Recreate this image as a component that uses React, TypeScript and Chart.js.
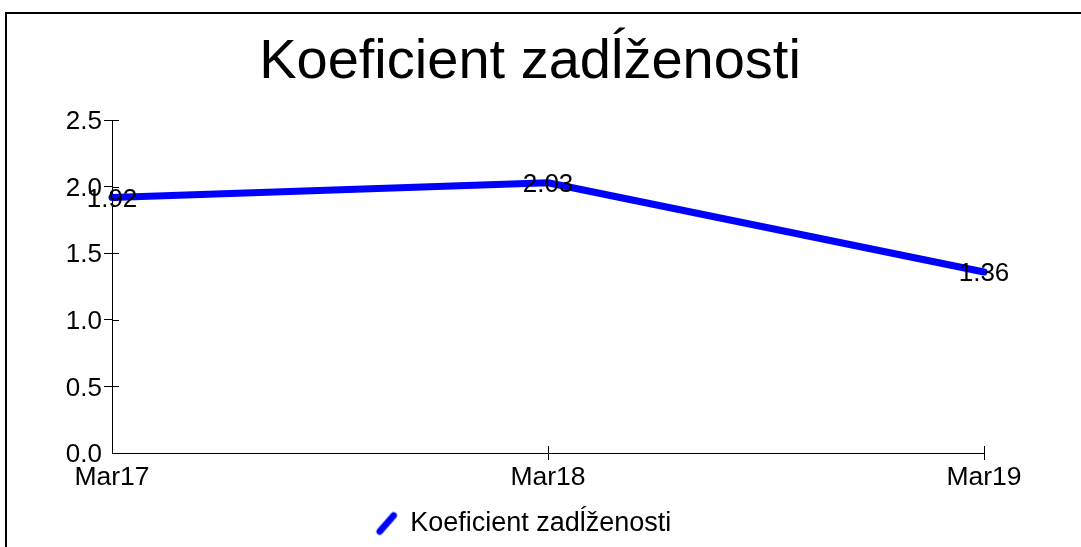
import React, { useEffect, useRef } from "react";
import { Chart, registerables } from "chart.js";

Chart.register(...registerables);

const TITLE = "Koeficient zadĺženosti";
const SERIES_NAME = "Koeficient zadĺženosti";
const CATEGORIES = ["Mar17", "Mar18", "Mar19"];
const VALUES = [1.92, 2.03, 1.36];
const Y_MIN = 0;
const Y_MAX = 2.5;
const Y_STEP = 0.5;

const FONT = "'Liberation Sans', Arial, Helvetica, sans-serif";
const LINE_COLOR = "#0000ff";

function makeLegendIcon(): HTMLCanvasElement {
  const c = document.createElement("canvas");
  c.width = 24;
  c.height = 26;
  const g = c.getContext("2d")!;
  g.strokeStyle = LINE_COLOR;
  g.lineWidth = 6.5;
  g.lineCap = "round";
  g.beginPath();
  g.moveTo(5, 21);
  g.lineTo(19, 5);
  g.stroke();
  return c;
}

const recenter = {
  id: "recenter",
  afterLayout(chart: any) {
    if (chart.titleBlock) chart.titleBlock.left = 76;
    if (chart.legend) chart.legend.left = 64;
  },
};

const crossTicks = {
  id: "crossTicks",
  afterDraw(chart: any) {
    const ctx = chart.ctx;
    const area = chart.chartArea;
    ctx.save();
    ctx.strokeStyle = "#000";
    ctx.lineWidth = 1;
    const y = chart.scales.y;
    y.ticks.forEach((_: any, i: number) => {
      if (i === 0) return;
      const py = Math.round(y.getPixelForTick(i)) + 0.5;
      ctx.beginPath();
      ctx.moveTo(area.left, py);
      ctx.lineTo(area.left + 7, py);
      ctx.stroke();
    });
    const x = chart.scales.x;
    x.ticks.forEach((_: any, i: number) => {
      if (i === 0) return;
      const px = Math.round(x.getPixelForTick(i)) + 0.5;
      ctx.beginPath();
      ctx.moveTo(px, area.bottom);
      ctx.lineTo(px, area.bottom - 7);
      ctx.stroke();
    });
    ctx.restore();
  },
};

const dataLabels = {
  id: "dataLabels",
  afterDatasetsDraw(chart: any) {
    const ctx = chart.ctx;
    ctx.save();
    ctx.fillStyle = "#000";
    ctx.font = `26px ${FONT}`;
    ctx.textAlign = "center";
    ctx.textBaseline = "middle";
    chart.data.datasets.forEach((ds: any, di: number) => {
      const meta = chart.getDatasetMeta(di);
      meta.data.forEach((el: any, i: number) => {
        ctx.fillText(ds.data[i].toFixed(2), el.x, el.y + 2);
      });
    });
    ctx.restore();
  },
};

export default function App() {
  const ref = useRef<HTMLCanvasElement | null>(null);

  useEffect(() => {
    if (!ref.current) return;
    const icon = makeLegendIcon();
    const tickColor = (c: any) => (c.index === 0 ? "rgba(0,0,0,0)" : "#000");
    const chart = new Chart(ref.current, {
      type: "line",
      data: {
        labels: CATEGORIES,
        datasets: [
          {
            label: SERIES_NAME,
            data: VALUES,
            borderColor: LINE_COLOR,
            backgroundColor: LINE_COLOR,
            borderWidth: 7,
            borderCapStyle: "round",
            borderJoinStyle: "round",
            pointRadius: 0,
            pointHoverRadius: 0,
            pointStyle: icon as any,
            tension: 0,
            fill: false,
            clip: false as any,
          },
        ],
      },
      options: {
        animation: false,
        responsive: false,
        maintainAspectRatio: false,
        events: [],
        layout: {
          autoPadding: false,
          padding: { left: 20, right: 97, top: 0, bottom: 0 },
        },
        plugins: {
          title: {
            display: true,
            text: TITLE,
            color: "#000",
            font: { family: FONT, size: 56, weight: "normal", lineHeight: 1.2 },
            padding: { top: 29, bottom: 24 },
          },
          legend: {
            display: true,
            position: "bottom",
            labels: {
              usePointStyle: true,
              color: "#000",
              font: { family: FONT, size: 27 },
              padding: 4,
              boxWidth: 20,
              boxHeight: 26,
            },
          },
          tooltip: { enabled: false },
        },
        scales: {
          x: {
            type: "category",
            offset: false,
            grid: {
              display: true,
              drawOnChartArea: false,
              drawTicks: true,
              tickLength: 7,
              color: tickColor,
              tickColor: tickColor,
            },
            border: { display: true, color: "#000", width: 1 },
            ticks: {
              color: "#000",
              font: { family: FONT, size: 26.5 },
              padding: 2,
              maxRotation: 0,
              autoSkip: false,
            },
            afterFit: (s: any) => {
              s.height = 53;
            },
          },
          y: {
            min: Y_MIN,
            max: Y_MAX,
            grid: {
              display: true,
              drawOnChartArea: false,
              drawTicks: true,
              tickLength: 8,
              color: tickColor,
              tickColor: tickColor,
            },
            border: { display: true, color: "#000", width: 1 },
            ticks: {
              stepSize: Y_STEP,
              color: "#000",
              font: { family: FONT, size: 26 },
              padding: 2,
              labelOffset: 2,
              callback: (v: any) => Number(v).toFixed(1),
            },
            afterFit: (s: any) => {
              s.width = 92;
            },
          },
        },
      },
      plugins: [recenter, crossTicks, dataLabels],
    });
    return () => chart.destroy();
  }, []);

  return (
    <div
      style={{
        position: "fixed",
        left: 0,
        top: 0,
        width: 1081,
        height: 547,
        overflow: "hidden",
        background: "#fff",
      }}
    >
      <canvas ref={ref} width={1081} height={547} style={{ position: "absolute", left: 0, top: 0, width: 1081, height: 547 }} />
      <div
        style={{
          position: "absolute",
          left: 5,
          top: 12,
          width: 1200,
          height: 700,
          borderLeft: "2px solid #000",
          borderTop: "2px solid #000",
          pointerEvents: "none",
        }}
      />
    </div>
  );
}
